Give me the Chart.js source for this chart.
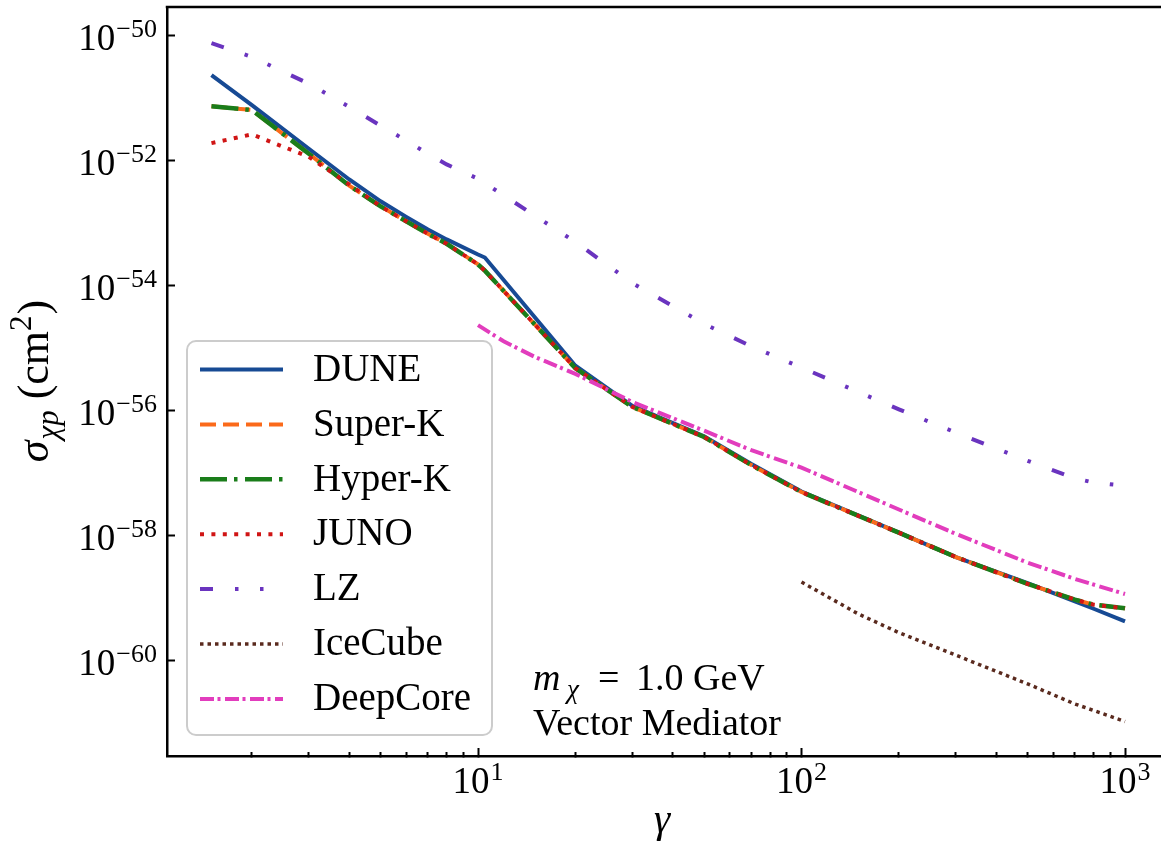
<!DOCTYPE html>
<html>
<head>
<meta charset="utf-8">
<script src="https://cdn.jsdelivr.net/npm/chart.js@4.4.0/dist/chart.umd.min.js"></script>
<style>
  html, body { margin: 0; padding: 0; background: #fff; overflow: hidden; }
  canvas { display: block; }
</style>
</head>
<body>
<canvas id="chart" width="1161" height="849"></canvas>
<script>
const gamma = [1.5, 2, 3, 4, 5, 6, 7, 8, 10, 10.5, 20, 30, 50, 70, 100, 200, 300, 500, 700, 800, 1000];

const dune = [2.34e-51, 7.76e-52, 1.55e-52, 5.0e-53, 2.24e-53, 1.26e-53, 7.9e-54, 5.5e-54, 3.16e-54, 2.82e-54,
  5.25e-56, 1.20e-56, 3.9e-57, 1.41e-57, 5.1e-58, 1.12e-58, 4.57e-59, 1.74e-59, 8.9e-60, 6.8e-60, 4.27e-60];
const superK = [7.4e-52, 6.46e-52, 1.29e-52, 3.98e-53, 1.86e-53, 1.07e-53, 6.76e-54, 4.68e-54, 2.19e-54, 1.74e-54,
  4.79e-56, 1.15e-56, 3.8e-57, 1.35e-57, 5.0e-58, 1.12e-58, 4.57e-59, 1.70e-59, 9.5e-60, 7.9e-60, 6.9e-60];
const hyperK = [7.4e-52, 6.46e-52, 1.29e-52, 3.98e-53, 1.86e-53, 1.07e-53, 6.76e-54, 4.68e-54, 2.19e-54, 1.74e-54,
  4.79e-56, 1.15e-56, 3.8e-57, 1.35e-57, 5.0e-58, 1.12e-58, 4.57e-59, 1.70e-59, 9.5e-60, 7.9e-60, 6.9e-60];
const juno = [1.91e-52, 2.63e-52, 1.15e-52, 4.17e-53, 1.86e-53, 1.07e-53, 6.76e-54, 4.68e-54, 2.19e-54, 1.74e-54,
  4.79e-56, 1.15e-56, 3.8e-57, 1.35e-57, 5.0e-58, 1.12e-58, 4.57e-59, 1.70e-59, 9.5e-60, 7.9e-60, 6.9e-60];
const lz = [7.6e-51, 4.57e-51, 1.70e-51, 7.24e-52, 3.63e-52, 2.09e-52, 1.29e-52, 8.7e-53, 5.13e-53, 4.37e-53,
  5.0e-54, 1.10e-54, 2.45e-55, 1.07e-55, 4.9e-56, 1.05e-56, 4.47e-57, 1.58e-57, 8.3e-58, 7.1e-58, 6.3e-58];

const gammaIceCube = [100, 150, 200, 300, 500, 700, 1000];
const iceCube = [1.82e-59, 5.6e-60, 2.82e-60, 1.23e-60, 4.27e-61, 2.04e-61, 1.07e-61];

const gammaDeepCore = [10, 12, 15, 20, 30, 50, 70, 100, 200, 300, 500, 700, 1000];
const deepCore = [2.34e-55, 1.29e-55, 7.24e-56, 3.89e-56, 1.38e-56, 4.79e-57, 2.34e-57, 1.23e-57,
  2.63e-58, 1.07e-58, 3.72e-59, 2.04e-59, 1.17e-59];

// tick positions
const xTicks = [2, 3, 4, 5, 6, 7, 8, 9, 10, 20, 30, 40, 50, 60, 70, 80, 90,
  100, 200, 300, 400, 500, 600, 700, 800, 900, 1000];
const yTicks = [1e-60, 1e-58, 1e-56, 1e-54, 1e-52, 1e-50];

const SERIF = "'Liberation Serif', 'DejaVu Serif', serif";

function isPow10(v) {
  const l = Math.log10(v);
  return Math.abs(l - Math.round(l)) < 1e-6;
}
function exponent(v) {
  return String(Math.round(Math.log10(v))).replace('-', '\u2212');
}
function pts(xs, ys) {
  return xs.map((x, i) => ({x: x, y: ys[i]}));
}

const series = [
  {label: 'DUNE', data: pts(gamma, dune), borderColor: '#174a94', borderDash: [], borderWidth: 4},
  {label: 'Super-K', data: pts(gamma, superK), borderColor: '#fb6a1a', borderDash: [16, 7], borderWidth: 4},
  {label: 'Hyper-K', data: pts(gamma, hyperK), borderColor: '#1a7d1a', borderDash: [27, 7, 3.5, 7.5], borderWidth: 4.5},
  {label: 'JUNO', data: pts(gamma, juno), borderColor: '#d01515', borderDash: [4, 7.4], borderWidth: 4},
  {label: 'LZ', data: pts(gamma, lz), borderColor: '#6a34bf', borderDash: [13, 22, 3.5, 21.5, 3.5, 22.5], borderWidth: 4},
  {label: 'IceCube', data: pts(gammaIceCube, iceCube), borderColor: '#5a2a1e', borderDash: [3.5, 4], borderWidth: 3.5},
  {label: 'DeepCore', data: pts(gammaDeepCore, deepCore), borderColor: '#e23dbd', borderDash: [14, 3.5, 3, 4.5], borderWidth: 4}
];

// draw in matplotlib order: later series on top
const datasets = series.map((s, i) => Object.assign({}, s, {
  order: series.length - i,
  pointRadius: 0,
  tension: 0,
  fill: false,
  borderCapStyle: 'butt',
  borderJoinStyle: 'miter'
}));

function drawPieces(ctx, pieces, x, y) {
  let cx = x;
  pieces.forEach(p => {
    ctx.font = p.font;
    ctx.fillText(p.text, cx, y + (p.dy || 0));
    cx += ctx.measureText(p.text).width + (p.gap || 0);
  });
}
function piecesWidth(ctx, pieces) {
  let w = 0;
  pieces.forEach(p => { ctx.font = p.font; w += ctx.measureText(p.text).width + (p.gap || 0); });
  return w;
}

const BASE_FONT = '37px ' + SERIF;
const EXP_FONT = '26px ' + SERIF;

function powPieces(v) {
  return [
    {text: '10', font: BASE_FONT, gap: 1},
    {text: exponent(v), font: EXP_FONT, dy: -13}
  ];
}

const decorations = {
  id: 'decorations',
  afterDatasetsDraw(chart) {
    const ctx = chart.ctx;
    const area = chart.chartArea;
    ctx.save();
    // top spine
    ctx.strokeStyle = '#000';
    ctx.lineWidth = 2.5;
    ctx.beginPath();
    ctx.moveTo(area.left - 1.25, area.top);
    ctx.lineTo(area.right, area.top);
    ctx.stroke();

    // legend box
    const lx = 187, ly = 341, lw = 305, lh = 394, r = 9;
    ctx.beginPath();
    ctx.moveTo(lx + r, ly);
    ctx.arcTo(lx + lw, ly, lx + lw, ly + lh, r);
    ctx.arcTo(lx + lw, ly + lh, lx, ly + lh, r);
    ctx.arcTo(lx, ly + lh, lx, ly, r);
    ctx.arcTo(lx, ly, lx + lw, ly, r);
    ctx.closePath();
    ctx.fillStyle = 'rgba(255,255,255,0.85)';
    ctx.fill();
    ctx.strokeStyle = '#cccccc';
    ctx.lineWidth = 2;
    ctx.stroke();

    chart.data.datasets.forEach((ds, i) => {
      const y = 369.5 + i * 54.9;
      ctx.beginPath();
      ctx.setLineDash(ds.borderDash || []);
      ctx.lineCap = 'butt';
      ctx.lineWidth = ds.borderWidth;
      ctx.strokeStyle = ds.borderColor;
      ctx.moveTo(200, y);
      ctx.lineTo(283, y);
      ctx.stroke();
      ctx.setLineDash([]);
      ctx.fillStyle = '#000';
      ctx.font = '39px ' + SERIF;
      ctx.textBaseline = 'middle';
      ctx.textAlign = 'left';
      ctx.fillText(ds.label, 313, y + 1);
    });

    // annotation
    ctx.fillStyle = '#000';
    ctx.textBaseline = 'alphabetic';
    ctx.font = 'italic 38px ' + SERIF;
    ctx.fillText('m', 533, 690);
    ctx.font = 'italic 27px ' + SERIF;
    ctx.fillText('χ', 567, 698);
    ctx.font = '38px ' + SERIF;
    ctx.fillText('=', 598, 690);
    ctx.fillText('1.0 GeV', 636, 690);
    ctx.fillText('Vector Mediator', 533, 735);
    ctx.restore();
  },
  afterDraw(chart) {
    const ctx = chart.ctx;
    const xs = chart.scales.x;
    const ys = chart.scales.y;
    ctx.save();
    ctx.fillStyle = '#000';
    ctx.textBaseline = 'alphabetic';
    ctx.textAlign = 'left';

    // tick labels, placed with the scales
    xs.ticks.forEach(t => {
      if (!isPow10(t.value)) return;
      const p = powPieces(t.value);
      const w = piecesWidth(ctx, p);
      drawPieces(ctx, p, xs.getPixelForValue(t.value) - w / 2, 793);
    });
    ys.ticks.forEach(t => {
      const p = powPieces(t.value);
      const w = piecesWidth(ctx, p);
      drawPieces(ctx, p, ys.right - 10 - w, ys.getPixelForValue(t.value) + 14);
    });

    // x axis title
    ctx.font = 'italic 41px ' + SERIF;
    const gw = ctx.measureText('γ').width;
    ctx.fillText('γ', 662 - gw / 2, 832);

    // y axis title, rotated
    const pieces = [
      {text: 'σ', font: 'italic 44px ' + SERIF, gap: 1},
      {text: 'χp', font: 'italic 31px ' + SERIF, dy: 10, gap: 11},
      {text: '(cm', font: '44px ' + SERIF},
      {text: '2', font: '31px ' + SERIF, dy: -17, gap: 1},
      {text: ')', font: '44px ' + SERIF}
    ];
    const w = piecesWidth(ctx, pieces);
    ctx.translate(48, 381);
    ctx.rotate(-Math.PI / 2);
    drawPieces(ctx, pieces, -w / 2, 0);
    ctx.restore();
  }
};

new Chart(document.getElementById('chart').getContext('2d'), {
  type: 'line',
  data: {datasets: datasets},
  options: {
    responsive: false,
    devicePixelRatio: 1,
    animation: false,
    events: [],
    layout: {padding: {top: 7, left: 0, right: 0, bottom: 0}},
    plugins: {legend: {display: false}, tooltip: {enabled: false}},
    scales: {
      x: {
        type: 'logarithmic',
        position: 'bottom',
        min: 1.093,
        max: 1292,
        afterBuildTicks: scale => { scale.ticks = xTicks.map(v => ({value: v})); },
        afterFit: scale => { scale.height = 93; scale.paddingLeft = 0; scale.paddingRight = 0; },
        border: {display: true, color: '#000', width: 2.5},
        grid: {
          display: true,
          drawOnChartArea: false,
          drawTicks: true,
          tickLength: -8,
          tickColor: '#000',
          tickWidth: 2,
          tickBorderDash: ctx => (ctx.tick && isPow10(ctx.tick.value)) ? [] : [5.5, 30]
        },
        ticks: {display: false, autoSkip: false, maxRotation: 0, minRotation: 0}
      },
      y: {
        type: 'logarithmic',
        position: 'left',
        min: 3.18e-62,
        max: 2.87e-50,
        afterBuildTicks: scale => { scale.ticks = yTicks.map(v => ({value: v})); },
        afterFit: scale => { scale.width = 167; scale.paddingTop = 0; scale.paddingBottom = 0; },
        border: {display: true, color: '#000', width: 2.5},
        grid: {
          display: true,
          drawOnChartArea: false,
          drawTicks: true,
          tickLength: -8,
          tickColor: '#000',
          tickWidth: 2
        },
        ticks: {display: false, autoSkip: false}
      }
    }
  },
  plugins: [decorations]
});
</script>
</body>
</html>
